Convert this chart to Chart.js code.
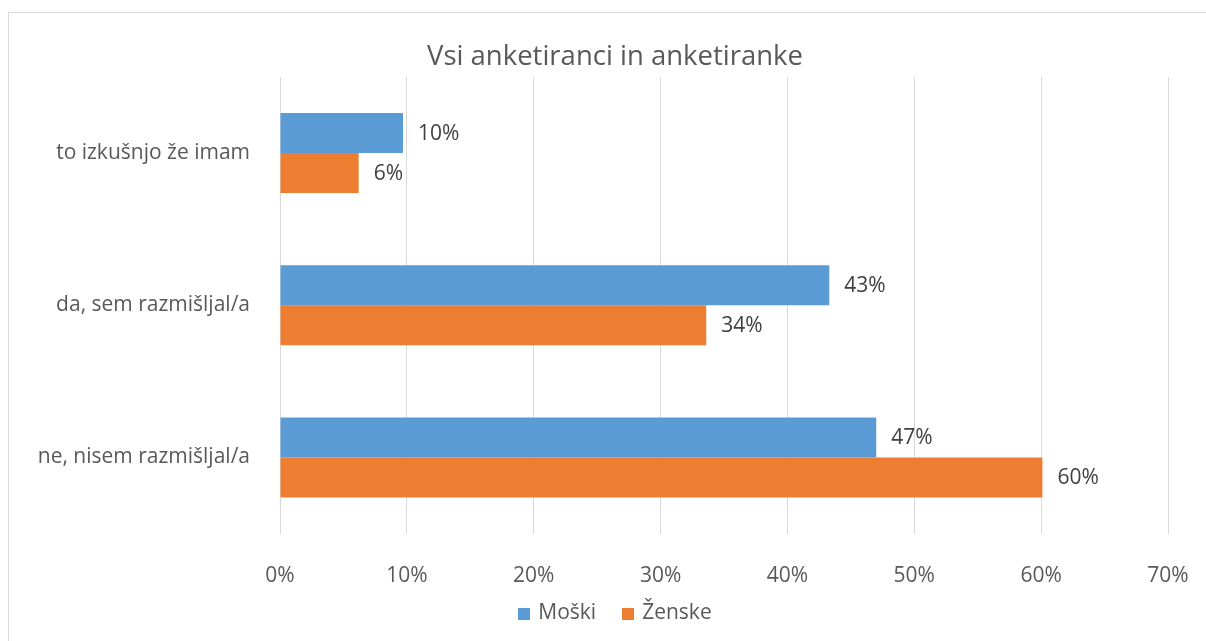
<!DOCTYPE html>
<html>
<head>
<meta charset="utf-8">
<script src="https://cdn.jsdelivr.net/npm/chart.js@4"></script>
<style>
  html, body { margin: 0; padding: 0; background: #fff; overflow: hidden; width: 1206px; height: 641px; }
  #box { position: absolute; left: 8px; top: 12px; width: 1212px; height: 640px; border: 1px solid #d9d9d9; background: #fff; }
  #c { display: block; }
</style>
</head>
<body>
<div id="box"><canvas id="c" width="1212" height="628"></canvas></div>
<script>
const categories = ['to izkušnjo že imam', 'da, sem razmišljal/a', 'ne, nisem razmišljal/a'];
const seriesNames = ['Moški', 'Ženske'];
const moski = [9.7, 43.3, 47.0];
const zenske = [6.2, 33.6, 60.1];
const xTicks = [0, 10, 20, 30, 40, 50, 60, 70];
const colors = ['#5B9BD5', '#ED7D31'];
const titleText = 'Vsi anketiranci in anketiranke';

const FONT = "'Open Sans', sans-serif";
const TEXT = '#595959';

const valueLabels = {
  id: 'valueLabels',
  afterDatasetsDraw(chart) {
    const ctx = chart.ctx;
    ctx.save();
    ctx.font = "21px 'Open Sans', sans-serif";
    ctx.fillStyle = '#404040';
    ctx.textAlign = 'left';
    ctx.textBaseline = 'middle';
    chart.data.datasets.forEach((ds, i) => {
      const meta = chart.getDatasetMeta(i);
      meta.data.forEach((bar, j) => {
        ctx.fillText(Math.round(ds.data[j]) + '%', bar.x + 15, bar.y + 1);
      });
    });
    ctx.restore();
  }
};

// Legend drawn below the x axis, centred on the whole chart box (as in the reference)
const bottomLegend = {
  id: 'bottomLegend',
  afterDraw(chart) {
    const ctx = chart.ctx;
    const box = 12, gapText = 8, gapItem = 26;
    ctx.save();
    ctx.font = "21px 'Open Sans', sans-serif";
    ctx.textBaseline = 'middle';
    ctx.textAlign = 'left';
    const ds = chart.data.datasets;
    const widths = ds.map(d => box + gapText + ctx.measureText(d.label).width);
    const total = widths.reduce((a, b) => a + b, 0) + gapItem * (ds.length - 1);
    let x = chart.width / 2 - total / 2;
    const cy = chart.scales.x.bottom + 24;
    ds.forEach((d, i) => {
      ctx.fillStyle = d.backgroundColor;
      ctx.fillRect(Math.round(x), Math.round(cy - box / 2), box, box);
      ctx.fillStyle = TEXT;
      ctx.fillText(d.label, x + box + gapText, cy);
      x += widths[i] + gapItem;
    });
    ctx.restore();
  }
};

new Chart(document.getElementById('c'), {
  type: 'bar',
  data: {
    labels: categories,
    datasets: [
      { label: seriesNames[0], data: moski, backgroundColor: colors[0], borderWidth: 0 },
      { label: seriesNames[1], data: zenske, backgroundColor: colors[1], borderWidth: 0 }
    ]
  },
  options: {
    indexAxis: 'y',
    responsive: false,
    animation: false,
    devicePixelRatio: 1,
    categoryPercentage: 0.526,
    barPercentage: 1.0,
    layout: { padding: { left: 0, right: 0, top: 0, bottom: 51.5 } },
    scales: {
      x: {
        min: 0, max: 70,
        afterBuildTicks(scale) { scale.ticks = xTicks.map(v => ({ value: v })); },
        afterFit(scale) { scale.height = 56; },
        ticks: {
          stepSize: 10,
          padding: 30,
          color: TEXT,
          font: { family: FONT, size: 21 },
          callback: v => v + '%'
        },
        grid: { color: '#d9d9d9', lineWidth: 1, drawTicks: false },
        border: { display: false }
      },
      y: {
        afterFit(scale) { scale.width = 271; },
        ticks: {
          padding: 30,
          color: TEXT,
          font: { family: FONT, size: 21 }
        },
        grid: { display: false, drawTicks: false },
        border: { display: false }
      },
      yRightSpace: {
        type: 'linear',
        position: 'right',
        display: true,
        afterFit(scale) { scale.width = 53; },
        ticks: { display: false },
        grid: { display: false, drawTicks: false },
        border: { display: false }
      }
    },
    plugins: {
      title: {
        display: true,
        text: titleText,
        color: TEXT,
        font: { family: FONT, size: 27.5, weight: 'normal' },
        padding: { top: 28, bottom: 3 }
      },
      legend: { display: false },
      tooltip: { enabled: false }
    }
  },
  plugins: [valueLabels, bottomLegend]
});
</script>
</body>
</html>
